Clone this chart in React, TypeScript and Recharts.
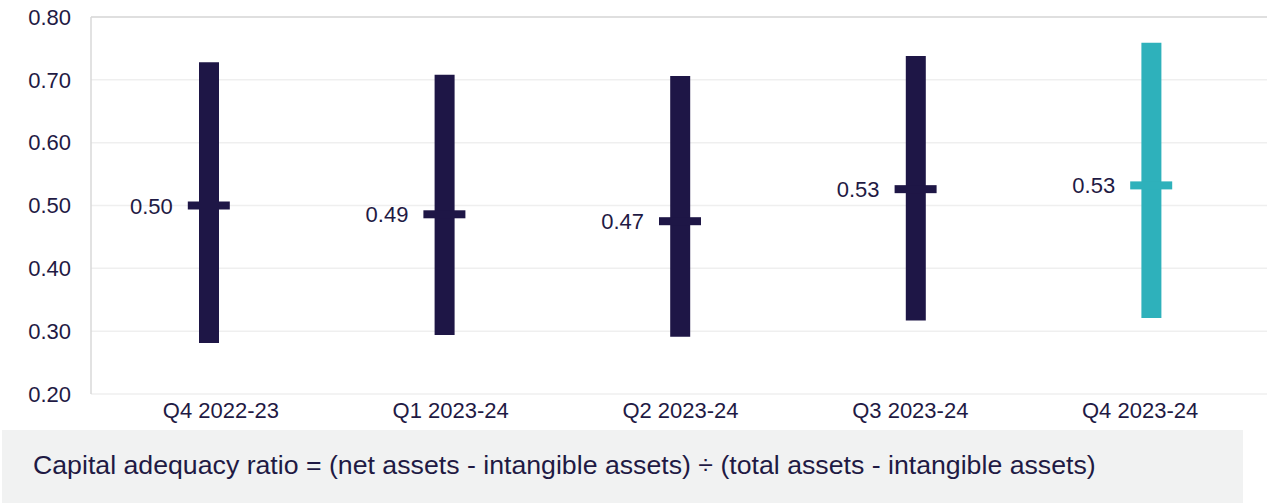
import { ComposedChart, Bar, Line, Cell, XAxis, YAxis, CartesianGrid, ReferenceLine } from "recharts"

// quarters and capital adequacy ratio ranges
const quarters = ["Q4 2022-23", "Q1 2023-24", "Q2 2023-24", "Q3 2023-24", "Q4 2023-24"]
const lows = [0.281, 0.294, 0.291, 0.317, 0.321]
const highs = [0.728, 0.708, 0.706, 0.738, 0.759]
const medians = [0.5, 0.486, 0.475, 0.526, 0.532]
const medianLabels = ["0.50", "0.49", "0.47", "0.53", "0.53"]
const yTicks = [0.2, 0.3, 0.4, 0.5, 0.6, 0.7, 0.8]
const latest = "Q4 2023-24"

const caption = "Capital adequacy ratio = (net assets - intangible assets) ÷ (total assets - intangible assets)"

const NAVY = "#1e1646"
const TEAL = "#2eb1bb"
const TEXT = "#1f1a44"
const FONT = "'Liberation Sans', Arial, sans-serif"

const data = quarters.map((q, i) => ({
  name: q,
  range: [lows[i], highs[i]],
  median: medians[i],
  label: medianLabels[i],
}))

const MedianMark = (props: any) => {
  const { cx, cy, payload, index } = props
  if (cx == null || cy == null) return <g key={index} />
  const color = payload.name === latest ? TEAL : NAVY
  return (
    <g key={index}>
      <rect x={cx - 21} y={cy - 4} width={42} height={8} fill={color} />
      <text x={cx - 36} y={cy + 8} textAnchor="end" fontSize={22} fill={TEXT} fontFamily={FONT}>
        {payload.label}
      </text>
    </g>
  )
}

export default function App() {
  return (
    <div style={{ position: "absolute", left: 0, top: 0, width: 1267, height: 503, overflow: "hidden", background: "#fff", fontFamily: FONT }}>
      <ComposedChart width={1269} height={430} data={data} margin={{ top: 17, right: 0, left: 0, bottom: 0 }}>
        <CartesianGrid horizontal vertical={false} stroke="#efefef" strokeWidth={1.5} />
        <ReferenceLine y={yTicks[yTicks.length - 1]} stroke="#d9d9d9" strokeWidth={1.5} />
        <XAxis
          dataKey="name"
          height={0}
          axisLine={{ stroke: "#d9d9d9", strokeWidth: 1.5 }}
          tickLine={false}
          tick={false}
        />
        {/* category labels sit on a slightly narrower band than the bars */}
        <XAxis
          xAxisId="labels"
          dataKey="name"
          height={36}
          padding={{ left: 15, right: 14 }}
          axisLine={false}
          tickLine={false}
          tickSize={0}
          tickMargin={8}
          tick={{ fill: TEXT, fontSize: 22, fontFamily: FONT }}
        />
        <YAxis
          width={91}
          domain={[0.2, 0.8]}
          ticks={yTicks}
          tickFormatter={(v: number) => v.toFixed(2)}
          axisLine={{ stroke: "#d9d9d9", strokeWidth: 1.5 }}
          tickLine={false}
          tickSize={0}
          tickMargin={20}
          tick={{ fill: TEXT, fontSize: 22, fontFamily: FONT }}
        />
        <Bar dataKey="range" barSize={20} isAnimationActive={false}>
          {data.map((d) => (
            <Cell key={d.name} fill={d.name === latest ? TEAL : NAVY} />
          ))}
        </Bar>
        <Line dataKey="median" stroke="none" dot={MedianMark} activeDot={false} isAnimationActive={false} />
      </ComposedChart>
      <div style={{ position: "absolute", left: 2, top: 430, width: 1241, height: 73, background: "#f1f2f2" }} />
      <div style={{ position: "absolute", left: 33, top: 450, fontSize: 26.7, color: TEXT, whiteSpace: "nowrap", lineHeight: "normal" }}>
        {caption}
      </div>
    </div>
  )
}
